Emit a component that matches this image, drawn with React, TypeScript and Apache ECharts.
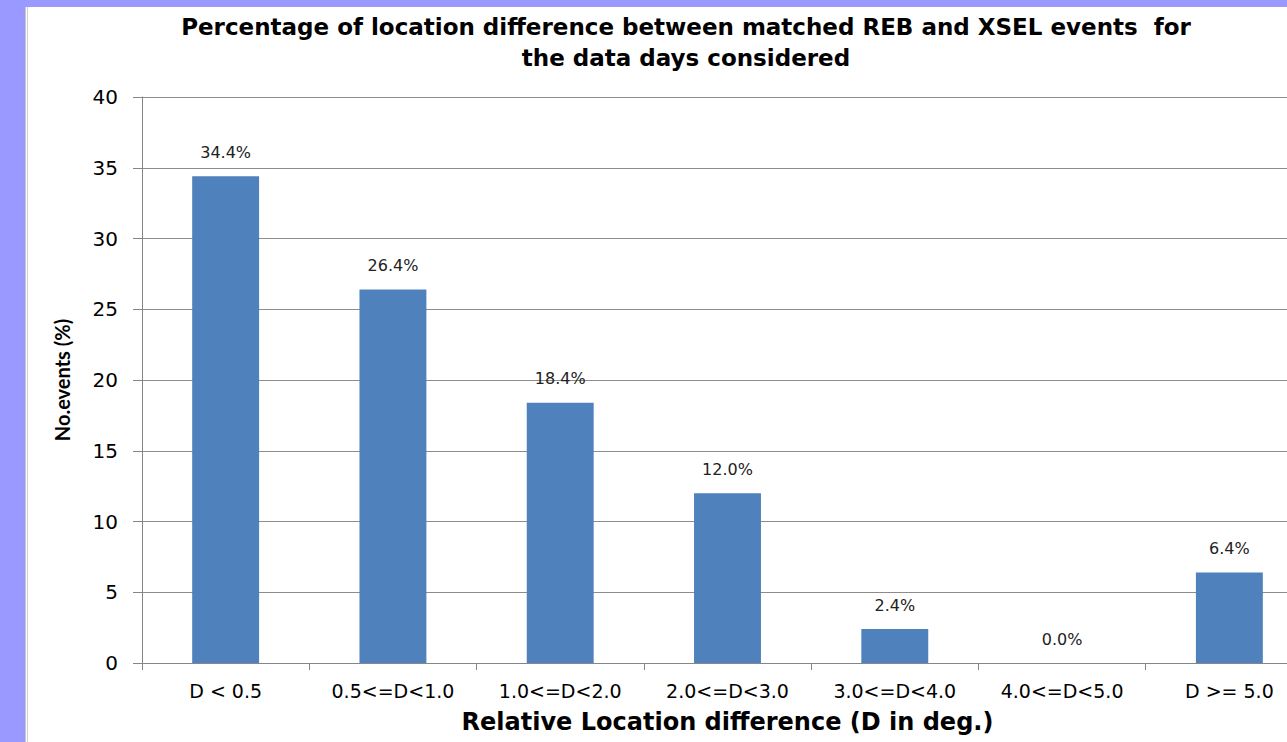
import React, { useEffect, useRef } from "react";
import * as echarts from "echarts";

const categories = [
  "D < 0.5",
  "0.5<=D<1.0",
  "1.0<=D<2.0",
  "2.0<=D<3.0",
  "3.0<=D<4.0",
  "4.0<=D<5.0",
  "D >= 5.0",
];
const percentages = [34.4, 26.4, 18.4, 12.0, 2.4, 0.0, 6.4];

const titleLines = [
  "Percentage of location difference between matched REB and XSEL events  for",
  "the data days considered",
];
const xAxisName = "Relative Location difference (D in deg.)";
const yAxisName = "No.events (%)";

const W = 1287;
const H = 742;

export default function App() {
  const ref = useRef<HTMLDivElement>(null);

  useEffect(() => {
    document.body.style.margin = "0";
    if (!ref.current) return;
    const chart = echarts.init(ref.current, undefined, { renderer: "svg" });
    const font = "'DejaVu Sans', Verdana, sans-serif";
    chart.setOption({
      animation: false,
      backgroundColor: "#ffffff",
      title: {
        text: titleLines.join("\n"),
        left: 681,
        top: 6,
        textAlign: "center",
        textStyle: {
          fontFamily: font,
          fontWeight: "bold",
          fontSize: 23,
          lineHeight: 31,
          color: "#000000",
        },
      },
      graphic: [
        { type: "rect", left: 0, top: 0, shape: { width: 25, height: H }, style: { fill: "#9999ff" }, silent: true },
        { type: "rect", left: 0, top: 0, shape: { width: W, height: 7 }, style: { fill: "#9999ff" }, silent: true },
        { type: "line", shape: { x1: 25.5, y1: 7, x2: 25.5, y2: H }, style: { stroke: "#c8c8c8", lineWidth: 1 }, silent: true },
        { type: "line", shape: { x1: 27.5, y1: 7, x2: 27.5, y2: H }, style: { stroke: "#d0d0d0", lineWidth: 1 }, silent: true },
      ],
      grid: {
        left: 142,
        top: 97,
        width: 1171,
        height: 566,
        containLabel: false,
        outerBoundsMode: "none",
      },
      xAxis: {
        type: "category",
        data: categories,
        name: xAxisName,
        nameLocation: "middle",
        nameGap: 47,
        nameTextStyle: {
          fontFamily: font,
          fontWeight: "bold",
          fontSize: 24,
          color: "#000000",
        },
        axisLine: { show: true, lineStyle: { color: "#868686", width: 1 } },
        axisTick: { show: true, length: 7, alignWithLabel: false, lineStyle: { color: "#868686" } },
        axisLabel: {
          margin: 18,
          fontFamily: font,
          fontSize: 19,
          color: "#000000",
        },
        splitLine: { show: false },
      },
      yAxis: {
        type: "value",
        min: 0,
        max: 40,
        interval: 5,
        name: yAxisName,
        nameLocation: "middle",
        nameGap: 70,
        nameTextStyle: {
          fontFamily: "'Liberation Sans Narrow', Lato, sans-serif",
          fontWeight: "bold",
          fontSize: 20,
          color: "#000000",
        },
        axisLine: { show: true, lineStyle: { color: "#868686", width: 1 } },
        axisTick: { show: true, length: 9, lineStyle: { color: "#868686" } },
        axisLabel: {
          margin: 24,
          fontFamily: font,
          fontSize: 20,
          color: "#000000",
        },
        splitLine: { show: true, lineStyle: { color: "#8c8c8c", width: 1 } },
      },
      series: [
        {
          type: "bar",
          data: percentages,
          barWidth: "40%",
          itemStyle: { color: "#4f81bd" },
          label: {
            show: true,
            position: "top",
            distance: 16,
            formatter: (p: any) => `${Number(p.value).toFixed(1)}%`,
            fontFamily: font,
            fontSize: 16,
            color: "#222222",
          },
        },
      ],
    });
    return () => chart.dispose();
  }, []);

  return <div ref={ref} style={{ width: W, height: H }} />;
}
